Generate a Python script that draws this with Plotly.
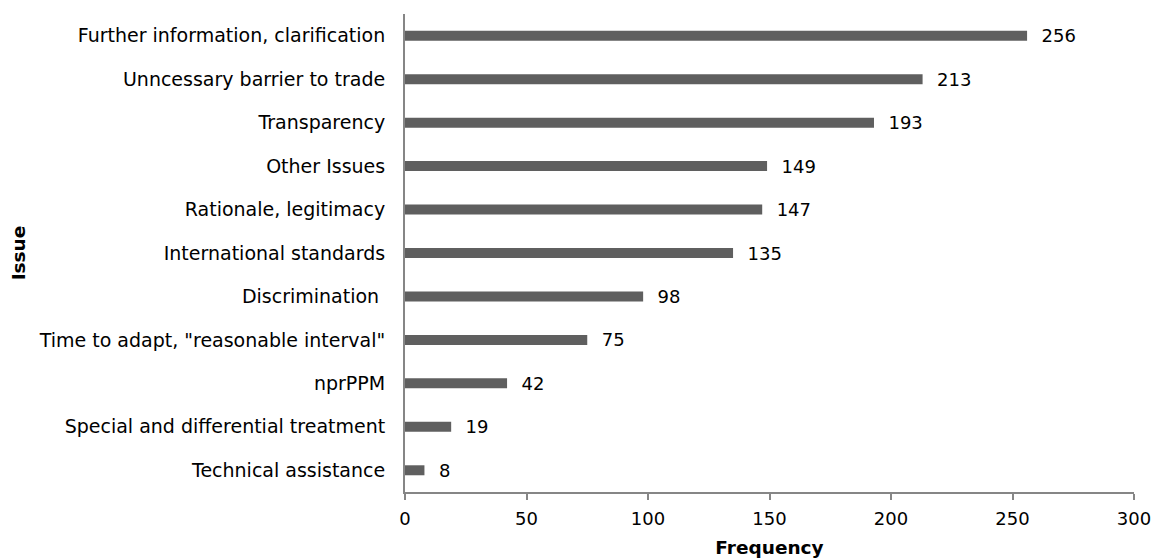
import plotly.graph_objects as go

categories = [
    "Further information, clarification",
    "Unncessary barrier to trade",
    "Transparency",
    "Other Issues",
    "Rationale, legitimacy",
    "International standards",
    "Discrimination ",
    "Time to adapt, \"reasonable interval\"",
    "nprPPM",
    "Special and differential treatment",
    "Technical assistance",
]
values = [256, 213, 193, 149, 147, 135, 98, 75, 42, 19, 8]
x_ticks = [0, 50, 100, 150, 200, 250, 300]

font_family = "DejaVu Sans, Verdana, sans-serif"

fig = go.Figure(
    go.Bar(
        y=categories,
        x=values,
        orientation="h",
        marker=dict(color="#5f5f5f", line=dict(width=0)),
        width=0.23,
        text=values,
        texttemplate="  %{x}",
        textposition="outside",
        constraintext="none",
        textfont=dict(family=font_family, size=18, color="#000000"),
        cliponaxis=False,
        hoverinfo="skip",
    )
)

fig.update_layout(
    width=1155,
    height=558,
    margin=dict(l=405, r=21, t=14, b=66),
    paper_bgcolor="white",
    plot_bgcolor="white",
    showlegend=False,
    font=dict(family=font_family, size=18, color="#000000"),
)

fig.update_xaxes(
    range=[0, 300],
    tickvals=x_ticks,
    showgrid=False,
    zeroline=False,
    showline=True,
    linecolor="#868686",
    linewidth=2,
    ticks="outside",
    ticklen=6,
    tickwidth=2,
    tickcolor="#868686",
    tickfont=dict(size=18),
    ticklabelstandoff=3,
    title=dict(text="<b>Frequency</b>", font=dict(size=18.5), standoff=13),
    automargin=False,
)

fig.update_yaxes(
    categoryorder="array",
    categoryarray=categories[::-1],
    showgrid=False,
    zeroline=False,
    showline=True,
    linecolor="#868686",
    linewidth=2,
    ticks="outside",
    ticklen=14,
    tickcolor="rgba(0,0,0,0)",
    tickfont=dict(size=19),
    title=dict(text="<b>Issue</b>", font=dict(size=18.5), standoff=8),
    automargin=False,
)

fig.write_html(
    "out.html",
    config={"displayModeBar": False},
    post_script="document.body.style.margin='0';document.documentElement.style.overflow='hidden';",
)
